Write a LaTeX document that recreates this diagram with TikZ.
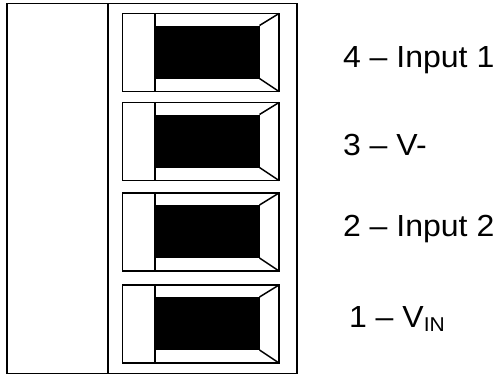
\documentclass[tikz,border=0pt]{standalone}
\usepackage{fontspec}
\setmainfont[FakeStretch=1.05]{Liberation Sans}
\tikzset{
  outline/.style={draw=black,line width=1.8pt,line join=miter},
  thinline/.style={draw=black,line width=1.5pt},
  pinlabel/.style={anchor=base west,inner sep=0pt,outer sep=0pt,font=\fontsize{30.5}{36}\selectfont,text=black}
}
\newcommand{\termblock}[1]{%
  \draw[outline] (122.5,#1) rectangle (279,#1+78);
  \fill[black] (155,#1+12) rectangle (259.5,#1+65);
  \draw[thinline] (155,#1) -- (155,#1+78);
  \draw[thinline] (259.5,#1+12) -- (279,#1);
  \draw[thinline] (259.5,#1+65) -- (279,#1+78);
}
\begin{document}
\begin{tikzpicture}[x=1pt,y=-1pt]
\useasboundingbox (0,0) rectangle (499,375);
\draw[outline] (7,3.5) rectangle (297,373.5);
\draw[outline] (108,3.5) -- (108,373.5);
\termblock{13.5}
\termblock{102.5}
\termblock{193}
\termblock{285}
\node[pinlabel] (p4) at (343,67) {4 – Input 1};
\node[pinlabel] (p3) at (343,155) {3 – V-};
\node[pinlabel] (p2) at (343,236) {2 – Input 2};
\node[pinlabel] (p1) at (349,327.5) {1 – V\raisebox{-4pt}{\fontsize{20}{24}\selectfont IN}};
\end{tikzpicture}
\end{document}
